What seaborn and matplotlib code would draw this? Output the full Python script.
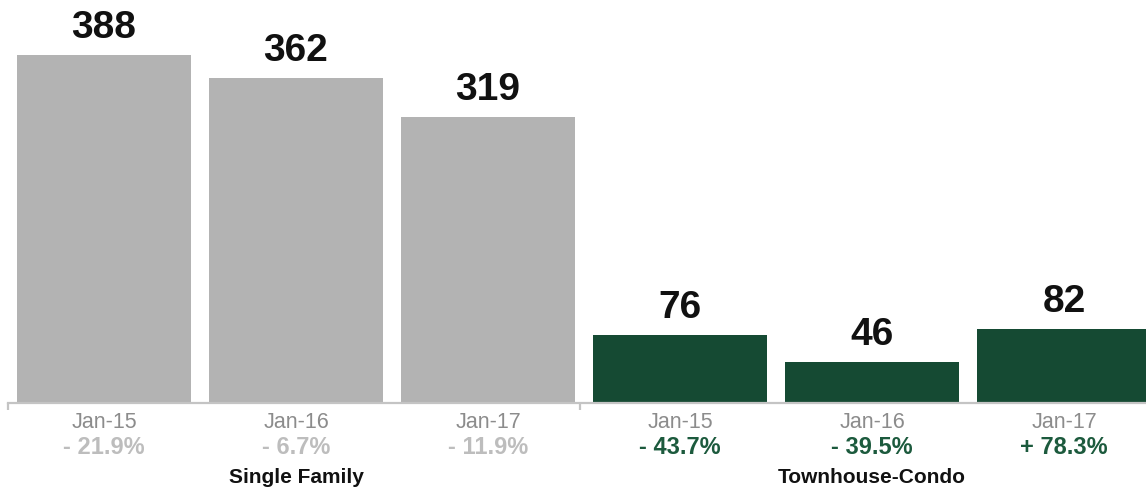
import matplotlib
matplotlib.use("Agg")
import matplotlib.pyplot as plt
import seaborn as sns
import pandas as pd

groups = ["Single Family", "Single Family", "Single Family",
          "Townhouse-Condo", "Townhouse-Condo", "Townhouse-Condo"]
periods = ["Jan-15", "Jan-16", "Jan-17", "Jan-15", "Jan-16", "Jan-17"]
values = [388, 362, 319, 76, 46, 82]
changes = ["- 21.9%", "- 6.7%", "- 11.9%", "- 43.7%", "- 39.5%", "+ 78.3%"]

GRAY = "#b3b3b3"
GREEN = "#154a33"
palette = {"Single Family": GRAY, "Townhouse-Condo": GREEN}
change_colors = {"Single Family": "#bdbdbd", "Townhouse-Condo": "#1c5a3d"}

df = pd.DataFrame({
    "slot": [f"{g}|{p}" for g, p in zip(groups, periods)],
    "group": groups,
    "period": periods,
    "value": values,
})

sns.set_theme(style="white")
plt.rcParams["font.family"] = ["Liberation Sans", "DejaVu Sans"]

W, H = 1146, 490
fig = plt.figure(figsize=(W / 100, H / 100), dpi=100)
ax = fig.add_axes([8 / W, 87 / H, 1152 / W, 403 / H])

sns.barplot(data=df, x="slot", y="value", hue="group", palette=palette,
            dodge=False, width=0.91, saturation=1, legend=False,
            linewidth=0, edgecolor="none", ax=ax)

ax.set_xlim(-0.5, 5.5)
ax.set_ylim(0, 449)
ax.set_xlabel("")
ax.set_ylabel("")
ax.set_yticks([])
for s in ["left", "right", "top"]:
    ax.spines[s].set_visible(False)
ax.spines["bottom"].set_color("#c4c4c4")
ax.spines["bottom"].set_linewidth(1.6)

ax.set_xticks([-0.5, 2.48])
ax.set_xticklabels([])
ax.tick_params(axis="x", length=5, width=1.6, color="#c4c4c4", direction="out", bottom=True)

px = 0.72  # points per pixel at 100 dpi

for i, (v, p, c, g) in enumerate(zip(values, periods, changes, groups)):
    ax.annotate(str(v), xy=(i, v), xytext=(0, 17 * px), textcoords="offset points",
                ha="center", va="baseline", fontsize=28, fontweight="bold", color="#111111")
    ax.annotate(p, xy=(i, 0), xycoords=("data", "axes fraction"),
                xytext=(0, -19 * px), textcoords="offset points",
                ha="center", va="center", fontsize=15.5, color="#8c8c8c")
    ax.annotate(c, xy=(i, 0), xycoords=("data", "axes fraction"),
                xytext=(0, -44 * px), textcoords="offset points",
                ha="center", va="center", fontsize=17, fontweight="bold",
                color=change_colors[g])

for name, center in [("Single Family", 1), ("Townhouse-Condo", 4)]:
    ax.annotate(name, xy=(center, 0), xycoords=("data", "axes fraction"),
                xytext=(0, -74 * px), textcoords="offset points",
                ha="center", va="center", fontsize=15, fontweight="bold", color="#111111")

fig.savefig("out.png", dpi=100)
